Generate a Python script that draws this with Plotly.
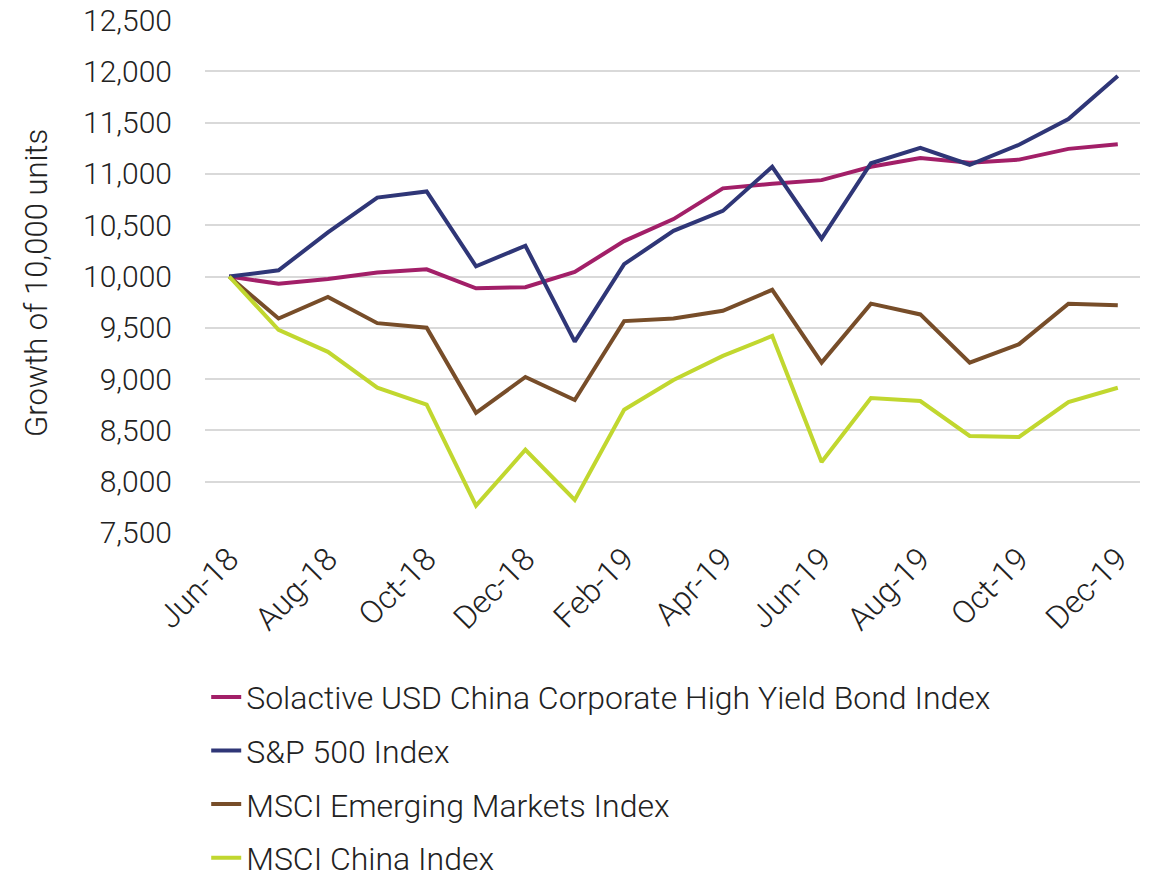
import plotly.graph_objects as go

months = ["Jun-18", "Jul-18", "Aug-18", "Sep-18", "Oct-18", "Nov-18", "Dec-18",
          "Jan-19", "Feb-19", "Mar-19", "Apr-19", "May-19", "Jun-19", "Jul-19",
          "Aug-19", "Sep-19", "Oct-19", "Nov-19", "Dec-19"]

solactive = [10000, 9930, 9975, 10040, 10070, 9885, 9895, 10045, 10345, 10560,
             10860, 10905, 10940, 11070, 11155, 11110, 11140, 11245, 11290]
sp500 = [10000, 10060, 10430, 10770, 10830, 10100, 10300, 9365, 10120, 10445,
         10640, 11070, 10370, 11105, 11255, 11090, 11285, 11535, 11955]
msci_em = [10000, 9590, 9800, 9545, 9500, 8670, 9020, 8795, 9565, 9590,
           9665, 9870, 9160, 9735, 9630, 9160, 9340, 9735, 9720]
msci_china = [10000, 9480, 9265, 8915, 8750, 7765, 8310, 7820, 8700, 8990,
              9225, 9420, 8190, 8815, 8785, 8445, 8435, 8775, 8915]

series_names = ["Solactive USD China Corporate High Yield Bond Index",
                "S&P 500 Index", "MSCI Emerging Markets Index", "MSCI China Index"]
series_values = [solactive, sp500, msci_em, msci_china]
colors = ["#A21F68", "#2F3677", "#774D29", "#C1D72F"]

tick_labels = months[::2]
tick_vals = list(range(0, len(months), 2))
y_ticks = list(range(7500, 12501, 500))
y_title = "Growth of 10,000 units"

FONT = "Roboto"

fig = go.Figure()
for i, (name, vals, col) in enumerate(zip(series_names, series_values, colors)):
    fig.add_trace(go.Scatter(
        x=list(range(len(months))), y=vals, name=name, mode="lines",
        line=dict(color=col, width=4), legendgroup=f"g{i}",
    ))

fig.update_layout(
    width=1152, height=873,
    margin=dict(l=205, r=12, t=20, b=340, autoexpand=False),
    plot_bgcolor="white", paper_bgcolor="white",
    font=dict(family=FONT, size=29, color="#222222", weight=300),
    showlegend=True,
    legend=dict(
        orientation="v", xref="container", yref="container",
        x=0.179, y=0.233, xanchor="left", yanchor="top",
        tracegroupgap=9, font=dict(size=32, family=FONT, weight=300),
        bgcolor="rgba(0,0,0,0)",
    ),
    annotations=[dict(
        text=y_title, xref="paper", yref="paper", x=-0.181, y=0.487,
        xanchor="center", yanchor="middle", textangle=-90, showarrow=False,
        font=dict(size=31, family=FONT, weight=300, color="#222222"),
    )],
)
fig.update_xaxes(
    range=[-0.49, 18.45], tickmode="array", tickvals=tick_vals, ticktext=tick_labels,
    tickangle=-45, showgrid=False, zeroline=False, showline=False, ticks="",
    tickfont=dict(size=32),
)
fig.update_yaxes(
    range=[7498, 12502], tickmode="array", tickvals=y_ticks,
    tickformat=",d", showgrid=True, gridcolor="#D9D9D9", gridwidth=2,
    zeroline=False, showline=False, ticks="", ticklabelstandoff=32,
    tickfont=dict(size=30),
)

fig.write_html("out.html", config={"displayModeBar": False},
               post_script="document.body.style.margin='0';")
